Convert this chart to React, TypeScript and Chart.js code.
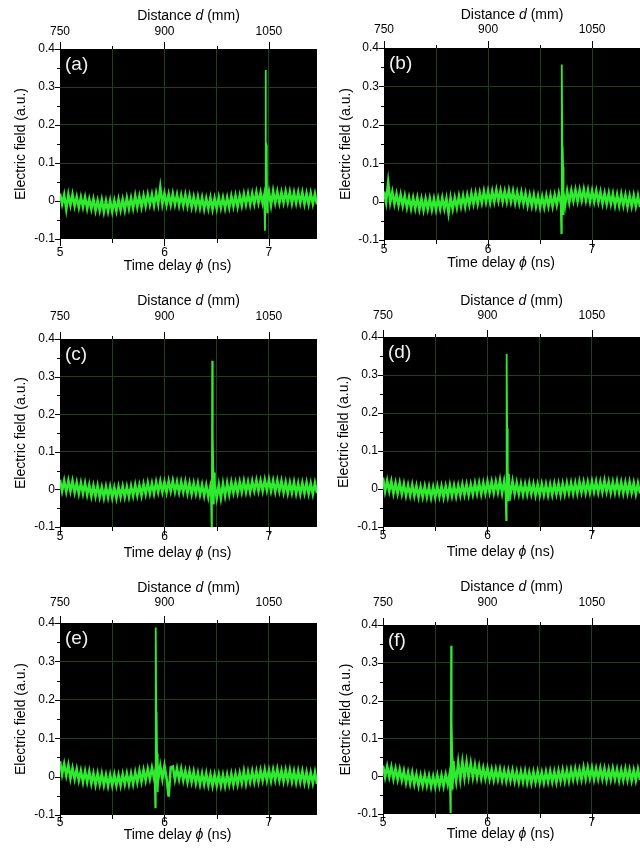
import React, { useEffect, useRef } from 'react';
import { Chart, registerables } from 'chart.js';

Chart.register(...registerables);

const FONT = '"Liberation Sans", Arial, Helvetica, sans-serif';
const GREEN = '#2fea2f';
const GRID = 'rgb(28,66,28)';

// ---- axes ----
const timeStart = 5;
const timeEnd = 7.46;
const timeStep = 0.02;
const distanceAtStart = 750;
const distancePerNs = 150;
const traceTimes = Array.from({ length: 124 }, (_, i) => Math.round((timeStart + i * timeStep) * 100) / 100);

const xTickValues = [5, 5.5, 6, 6.5, 7];
const xTickLabels = ['5', '', '6', '', '7'];
const dTickValues = [750, 825, 900, 975, 1050];
const dTickLabels = ['750', '', '900', '', '1050'];
const yTickValues = [-0.1, -0.05, 0, 0.05, 0.1, 0.15, 0.2, 0.25, 0.3, 0.35, 0.4];
const yTickLabels = ['-0.1', '', '0', '', '0.1', '', '0.2', '', '0.3', '', '0.4'];
const panelLabels = ['(a)', '(b)', '(c)', '(d)', '(e)', '(f)'];
const topTitle: [string, boolean][] = [['Distance ', false], ['d', true], [' (mm)', false]];
const bottomTitle: [string, boolean][] = [['Time delay ', false], ['\u03D5', true], [' (ns)', false]];
const yTitle: [string, boolean][] = [['Electric field (a.u.)', false]];

// ---- traces (electric field, a.u.) sampled every 0.02 ns from 5.00 ns ----
const traceA = [.020,-.008,.016,-.022,.017,-.011,.017,-.013,.011,-.017,
.010,-.016,.010,-.020,.005,-.021,.005,-.025,.001,-.025,
.003,-.028,.000,-.027,.001,-.028,.001,-.026,.004,-.024,
.004,-.024,.008,-.020,.008,-.019,.014,-.016,.012,-.016,
.014,-.013,.017,-.010,.017,-.012,.020,-.008,.036,-.008,
.020,-.010,.018,-.010,.019,-.009,.017,-.012,.015,-.012,
.016,-.013,.014,-.016,.011,-.017,.011,-.018,.009,-.021,
.007,-.020,.009,-.022,.007,-.020,.010,-.018,.009,-.019,
.009,-.017,.013,-.014,.014,-.015,.014,-.012,.018,-.009,
.019,-.009,.020,-.007,.023,-.005,.022,-.006,.022,-.005,
.024,-.011,.026,-.004,.024,-.005,.023,-.004,.025,-.003,
.024,-.006,.022,-.005,.023,-.005,.022,-.008,.020,-.008,
.021,-.007,.019,-.009];
const traceB = [.026,-.002,.050,-.002,.025,-.006,.020,-.009,.018,-.011,
.015,-.015,.011,-.018,.010,-.018,.010,-.020,.007,-.022,
.007,-.020,.008,-.021,.007,-.021,.008,-.019,.010,-.019,
.008,-.030,.010,-.019,.010,-.016,.014,-.013,.015,-.013,
.017,-.009,.021,-.006,.022,-.006,.023,-.003,.027,-.001,
.027,-.002,.027,.000,.030,.002,.029,.000,.027,.000,
.029,.000,.027,-.003,.024,-.004,.024,-.005,.021,-.010,
.017,-.011,.017,-.012,.014,-.015,.013,-.014,.016,-.012,
.016,-.012,.017,-.009,.021,-.005,.025,-.010,.027,-.002,
.029,.002,.030,.001,.030,.003,.032,.003,.030,.000,
.028,.000,.028,-.001,.025,-.005,.022,-.006,.022,-.006,
.020,-.010,.018,-.010,.019,-.010,.017,-.013,.015,-.012,
.016,-.012,.015,-.014];
const traceC = [.026,-.004,.023,-.006,.023,-.005,.022,-.008,.018,-.011,
.017,-.011,.016,-.014,.012,-.018,.010,-.018,.010,-.020,
.006,-.022,.007,-.021,.007,-.022,.005,-.023,.007,-.020,
.008,-.020,.007,-.020,.009,-.017,.012,-.016,.011,-.016,
.014,-.012,.017,-.011,.016,-.011,.019,-.007,.021,-.007,
.020,-.008,.022,-.005,.023,-.006,.020,-.008,.020,-.007,
.020,-.010,.017,-.012,.016,-.011,.016,-.014,.012,-.017,
.011,-.020,.009,-.022,.011,-.023,.012,-.023,.015,-.017,
.017,-.013,.019,-.009,.018,-.009,.020,-.007,.022,-.007,
.020,-.007,.022,-.004,.024,-.004,.023,-.004,.025,-.002,
.026,-.004,.023,-.006,.023,-.005,.022,-.008,.019,-.010,
.018,-.009,.019,-.011,.016,-.012,.017,-.010,.018,-.011,
.016,-.012,.017,-.010];
const traceD = [.030,-.006,.022,-.006,.020,-.011,.016,-.012,.016,-.013,
.013,-.017,.010,-.017,.011,-.018,.008,-.021,.006,-.021,
.007,-.021,.006,-.023,.005,-.022,.007,-.020,.007,-.022,
.007,-.020,.010,-.018,.009,-.019,.009,-.017,.012,-.015,
.012,-.016,.012,-.014,.015,-.012,.016,-.013,.016,-.011,
.019,-.009,.019,-.010,.019,-.008,.023,-.011,.020,-.014,
.019,-.014,.020,-.012,.016,-.013,.014,-.015,.013,-.014,
.015,-.013,.013,-.016,.012,-.016,.013,-.015,.012,-.016,
.012,-.015,.014,-.013,.014,-.015,.014,-.013,.016,-.011,
.016,-.012,.016,-.011,.019,-.009,.018,-.010,.018,-.009,
.020,-.007,.020,-.009,.019,-.008,.022,-.007,.019,-.010,
.018,-.009,.020,-.009,.018,-.011,.017,-.011,.018,-.010,
.016,-.013,.015,-.012];
const traceE = [.040,.006,.033,.003,.030,-.005,.022,-.006,.020,-.010,
.015,-.014,.014,-.014,.013,-.018,.008,-.021,.008,-.020,
.007,-.022,.004,-.024,.004,-.023,.005,-.023,.004,-.023,
.006,-.020,.008,-.020,.008,-.019,.011,-.015,.015,-.013,
.017,-.010,.020,-.006,.023,-.004,.026,-.008,.027,-.006,
.028,-.005,-.052,.024,.026,-.007,.021,-.007,.020,-.010,
.015,-.014,.014,-.014,.013,-.017,.009,-.020,.008,-.020,
.008,-.022,.005,-.024,.005,-.023,.005,-.024,.004,-.024,
.005,-.021,.007,-.021,.007,-.020,.009,-.017,.014,-.018,
.012,-.014,.014,-.014,.014,-.013,.016,-.010,.018,-.010,
.017,-.011,.018,-.009,.019,-.010,.016,-.012,.017,-.011,
.017,-.013,.014,-.015,.014,-.014,.014,-.016,.011,-.018,
.010,-.017,.011,-.019];
const traceF = [.028,-.002,.026,-.002,.024,-.007,.020,-.009,.018,-.011,
.014,-.017,.010,-.019,.009,-.021,.005,-.025,.002,-.025,
.003,-.025,.001,-.028,-.001,-.028,.002,-.026,.002,-.026,
.004,-.022,.009,-.021,.020,-.014,.036,-.008,.038,-.004,
.037,-.002,.034,-.003,.029,-.004,.026,-.006,.022,-.006,
.021,-.008,.018,-.010,.018,-.009,.018,-.011,.015,-.013,
.015,-.012,.015,-.014,.012,-.016,.012,-.015,.013,-.017,
.010,-.018,.011,-.016,.012,-.017,.010,-.017,.012,-.015,
.013,-.015,.012,-.016,.014,-.013,.016,-.013,.015,-.013,
.017,-.009,.019,-.009,.018,-.009,.023,-.007,.023,-.005,
.022,-.008,.020,-.007,.021,-.007,.020,-.010,.018,-.009,
.020,-.008,.018,-.011,.017,-.010,.019,-.010,.017,-.012,
.016,-.011,.018,-.010];

// ---- pulse (spike) samples ----
const spikeATimes = [6.955, 6.962, 6.965, 6.968, 6.971, 6.975, 6.979, 6.983, 6.988];
const spikeAValues = [0.012, -0.078, 0.0, 0.345, 0.155, 0.148, 0.095, -0.03, 0.02];
const spikeBTimes = [6.697, 6.704, 6.707, 6.71, 6.713, 6.717, 6.721, 6.725, 6.73];
const spikeBValues = [0.01, -0.082, 0.0, 0.357, 0.143, 0.138, 0.09, -0.035, 0.02];
const spikeCTimes = [6.444, 6.451, 6.454, 6.457, 6.46, 6.464, 6.468, 6.472, 6.477, 6.482];
const spikeCValues = [0.0, -0.1, -0.01, 0.342, 0.148, 0.14, 0.045, -0.04, 0.045, 0.0];
const spikeDTimes = [6.172, 6.179, 6.182, 6.185, 6.188, 6.192, 6.196, 6.2, 6.205, 6.21];
const spikeDValues = [0.008, -0.082, 0.0, 0.355, 0.16, 0.15, 0.05, -0.03, 0.04, 0.01];
const spikeETimes = [5.905, 5.912, 5.915, 5.918, 5.921, 5.925, 5.929, 5.933, 5.938, 5.945];
const spikeEValues = [0.01, -0.08, 0.0, 0.388, 0.168, 0.16, 0.06, -0.04, 0.035, 0.01];
const spikeFTimes = [5.639, 5.646, 5.649, 5.652, 5.655, 5.659, 5.663, 5.667, 5.672, 5.678];
const spikeFValues = [0.0, -0.095, -0.01, 0.345, 0.153, 0.145, 0.05, -0.035, 0.04, 0.01];

type Spec = {
  trace: number[]; spikeT: number[]; spikeV: number[];
  left: number; top: number; W: number; H: number;
  L: number; R: number; T: number; B: number;
  topLabelY: number; topTitleY: number; bottomLabelY: number; bottomTitleY: number; yTitleX: number;
};

const PANELS: Spec[] = [
  { trace: traceA, spikeT: spikeATimes, spikeV: spikeAValues, left: 0, top: 0, W: 320, H: 280, L: 60, R: 317, T: 49, B: 239, topLabelY: 31.5, topTitleY: 16, bottomLabelY: 253, bottomTitleY: 266, yTitleX: 21 },
  { trace: traceB, spikeT: spikeBTimes, spikeV: spikeBValues, left: 320, top: 0, W: 320, H: 280, L: 64, R: 320, T: 48, B: 240, topLabelY: 30, topTitleY: 15, bottomLabelY: 250, bottomTitleY: 263, yTitleX: 26 },
  { trace: traceC, spikeT: spikeCTimes, spikeV: spikeCValues, left: 0, top: 280, W: 320, H: 280, L: 60, R: 317, T: 59, B: 247, topLabelY: 37, topTitleY: 21, bottomLabelY: 257, bottomTitleY: 273, yTitleX: 21 },
  { trace: traceD, spikeT: spikeDTimes, spikeV: spikeDValues, left: 320, top: 280, W: 320, H: 280, L: 63, R: 320, T: 57, B: 247, topLabelY: 36, topTitleY: 21, bottomLabelY: 256, bottomTitleY: 272, yTitleX: 24 },
  { trace: traceE, spikeT: spikeETimes, spikeV: spikeEValues, left: 0, top: 560, W: 320, H: 288, L: 60, R: 317, T: 63, B: 255, topLabelY: 43, topTitleY: 28, bottomLabelY: 263, bottomTitleY: 275, yTitleX: 21 },
  { trace: traceF, spikeT: spikeFTimes, spikeV: spikeFValues, left: 320, top: 560, W: 320, H: 288, L: 63, R: 320, T: 65, B: 254, topLabelY: 42.5, topTitleY: 27.5, bottomLabelY: 263, bottomTitleY: 274, yTitleX: 26 },
];

function drawRuns(ctx: CanvasRenderingContext2D, runs: [string, boolean][], cx: number, cy: number, size: number) {
  const fonts = runs.map(([, it]) => `${it ? 'italic ' : ''}${size}px ${FONT}`);
  let total = 0;
  const widths = runs.map(([t], i) => {
    ctx.font = fonts[i];
    const w = ctx.measureText(t).width;
    total += w;
    return w;
  });
  let x = cx - total / 2;
  ctx.textBaseline = 'middle';
  ctx.textAlign = 'left';
  runs.forEach(([t], i) => {
    ctx.font = fonts[i];
    ctx.fillText(t, x, cy);
    x += widths[i];
  });
}

const decorPlugin = {
  id: 'decor',
  beforeDraw(chart: any) {
    const { ctx, chartArea: a } = chart;
    ctx.save();
    ctx.fillStyle = '#ffffff';
    ctx.fillRect(0, 0, chart.width, chart.height);
    ctx.fillStyle = '#000000';
    ctx.fillRect(a.left, a.top, a.right - a.left, a.bottom - a.top);
    ctx.restore();
  },
  afterDraw(chart: any, _args: any, opts: any) {
    const { ctx, chartArea: a, scales } = chart;
    ctx.save();
    ctx.strokeStyle = '#000';
    ctx.lineWidth = 1;
    ctx.beginPath();
    xTickValues.forEach((v, i) => {
      const px = Math.round(scales.x.getPixelForValue(v)) + 0.5;
      const len = xTickLabels[i] ? 7 : 4;
      ctx.moveTo(px, a.bottom); ctx.lineTo(px, a.bottom + len);
    });
    dTickValues.forEach((v, i) => {
      const px = Math.round(scales.x2.getPixelForValue(v)) + 0.5;
      const len = dTickLabels[i] ? 7 : 3;
      ctx.moveTo(px, a.top); ctx.lineTo(px, a.top - len);
    });
    yTickValues.forEach((v, i) => {
      const py = Math.round(scales.y.getPixelForValue(v)) + 0.5;
      const len = yTickLabels[i] ? 5 : 3;
      ctx.moveTo(a.left, py); ctx.lineTo(a.left - len, py);
    });
    ctx.stroke();

    ctx.fillStyle = '#000';
    const cx = (a.left + a.right) / 2;
    drawRuns(ctx, topTitle, cx, opts.topTitleY, 14);
    drawRuns(ctx, bottomTitle, cx - 11, opts.bottomTitleY, 14);
    ctx.save();
    ctx.translate(opts.yTitleX, (a.top + a.bottom) / 2);
    ctx.rotate(-Math.PI / 2);
    drawRuns(ctx, yTitle, 0, 0, 14);
    ctx.restore();

    ctx.fillStyle = '#f2f2f2';
    ctx.font = `19px ${FONT}`;
    ctx.textAlign = 'left';
    ctx.textBaseline = 'middle';
    ctx.fillText(opts.label, a.left + 5, a.top + 16);
    ctx.restore();
  },
};

function Panel({ spec, index }: { spec: Spec; index: number }) {
  const ref = useRef<HTMLCanvasElement>(null);
  useEffect(() => {
    const s = spec;
    const tickFont = { family: FONT, size: 12 };
    const chart = new Chart(ref.current as HTMLCanvasElement, {
      type: 'line',
      data: {
        datasets: [
          {
            data: traceTimes.map((t, i) => ({ x: t, y: s.trace[i] })),
            borderColor: GREEN,
            borderWidth: 2.6,
            pointRadius: 0,
            tension: 0,
          },
          {
            data: s.spikeT.map((t, i) => ({ x: t, y: s.spikeV[i] })),
            borderColor: GREEN,
            borderWidth: 1.8,
            pointRadius: 0,
            tension: 0,
          },
        ],
      },
      options: {
        responsive: false,
        animation: false,
        devicePixelRatio: 1,
        events: [],
        layout: { padding: { left: 0, right: s.W - s.R, top: 0, bottom: 0 } },
        plugins: {
          legend: { display: false },
          tooltip: { enabled: false },
          // @ts-ignore
          decor: {
            label: panelLabels[index],
            topTitleY: s.topTitleY,
            bottomTitleY: s.bottomTitleY,
            yTitleX: s.yTitleX,
          },
        },
        scales: {
          x: {
            type: 'linear',
            position: 'bottom',
            min: timeStart,
            max: timeEnd,
            afterBuildTicks: (sc: any) => { sc.ticks = xTickValues.map((v) => ({ value: v })); },
            afterFit: (sc: any) => { sc.height = s.H - s.B; },
            ticks: {
              autoSkip: false, maxRotation: 0, color: '#000', font: tickFont,
              padding: Math.max(0, s.bottomLabelY - s.B - 7.2),
              callback: (_v: any, i: number) => xTickLabels[i],
            },
            grid: { drawTicks: false, lineWidth: 1, color: (c: any) => (c.index > 0 ? GRID : 'rgba(0,0,0,0)') },
            border: { display: false },
          },
          x2: {
            type: 'linear',
            axis: 'x',
            position: 'top',
            min: distanceAtStart,
            max: distanceAtStart + distancePerNs * (timeEnd - timeStart),
            afterBuildTicks: (sc: any) => { sc.ticks = dTickValues.map((v) => ({ value: v })); },
            afterFit: (sc: any) => { sc.height = s.T; },
            ticks: {
              autoSkip: false, maxRotation: 0, color: '#000', font: tickFont,
              padding: Math.max(0, s.T - s.topLabelY - 7.2),
              callback: (_v: any, i: number) => dTickLabels[i],
            },
            grid: { drawOnChartArea: false, drawTicks: false },
            border: { display: false },
          },
          y: {
            type: 'linear',
            min: -0.1,
            max: 0.4,
            afterBuildTicks: (sc: any) => { sc.ticks = yTickValues.map((v) => ({ value: v })); },
            afterFit: (sc: any) => { sc.width = s.L; },
            ticks: {
              autoSkip: false, color: '#000', font: tickFont, padding: 5,
              callback: (_v: any, i: number) => yTickLabels[i],
            },
            grid: {
              drawTicks: false, lineWidth: 1,
              color: (c: any) => (c.index > 0 && c.index < 10 && yTickLabels[c.index] ? GRID : 'rgba(0,0,0,0)'),
            },
            border: { display: false },
          },
        },
      } as any,
      plugins: [decorPlugin as any],
    });
    return () => chart.destroy();
  }, []);
  return (
    <canvas
      ref={ref}
      width={spec.W}
      height={spec.H}
      style={{ position: 'absolute', left: spec.left, top: spec.top, width: spec.W, height: spec.H }}
    />
  );
}

export default function App() {
  return (
    <div style={{ position: 'absolute', left: 0, top: 0, width: 640, height: 848, overflow: 'hidden', background: '#fff' }}>
      {PANELS.map((p, i) => (
        <Panel key={i} spec={p} index={i} />
      ))}
    </div>
  );
}
